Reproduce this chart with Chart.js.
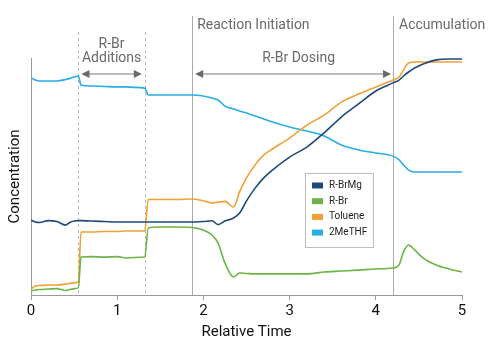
<!DOCTYPE html>
<html>
<head>
<meta charset="utf-8">
<script src="https://cdn.jsdelivr.net/npm/chart.js@4"></script>
<style>
  html, body { margin: 0; padding: 0; background: #fff; }
  #wrap { width: 492px; height: 364px; }
</style>
</head>
<body>
<div id="wrap"><canvas id="chartArea"></canvas></div>
<script>
// relative time (x) shared by all series
const time = [0, 0.05, 0.1, 0.2, 0.3, 0.4, 0.45, 0.5, 0.55, 0.58, 0.7, 0.85, 1.0, 1.1, 1.2, 1.32, 1.36, 1.5, 1.7, 1.87,
              2.0, 2.1, 2.17, 2.25, 2.35, 2.42, 2.5, 2.6, 2.7, 2.8, 3.0, 3.2, 3.4, 3.6, 3.8, 4.0, 4.2, 4.27, 4.32, 4.38,
              4.45, 4.55, 4.7, 4.85, 5.0];

const rBrMg = [31.6, 30.8, 30.6, 31.4, 31.0, 29.5, 30.6, 31.2, 31.4, 31.4, 31.2, 31.0, 30.8, 30.8, 30.8, 30.8, 30.8, 30.8, 30.8, 30.8,
               31.0, 31.3, 29.7, 31.2, 32.5, 34.6, 39.7, 45.1, 49.4, 52.7, 58.2, 62.4, 68.4, 75.1, 80.6, 86.1, 89.5, 90.7, 92.4, 94.1,
               95.8, 97.5, 99.2, 99.6, 99.6];
const rBr = [1.8, 2.1, 2.3, 2.5, 2.7, 1.9, 2.3, 2.7, 3.0, 16.0, 16.2, 16.0, 16.2, 15.6, 15.8, 16.0, 28.3, 28.7, 28.7, 28.5,
             27.4, 25.3, 21.9, 13.5, 7.6, 9.3, 9.1, 8.9, 8.9, 8.9, 8.9, 8.9, 9.7, 10.1, 10.5, 11.0, 11.4, 12.7, 18.1, 21.1,
             19.0, 15.6, 12.7, 11.0, 9.7];
const toluene = [2.5, 3.8, 4.0, 4.2, 4.2, 4.6, 4.9, 5.1, 5.5, 26.6, 26.6, 26.8, 26.8, 27.0, 27.0, 27.0, 40.3, 40.3, 40.3, 40.5,
                 39.7, 38.8, 39.2, 39.5, 37.1, 43.5, 49.4, 54.9, 59.1, 61.6, 66.2, 71.7, 75.9, 81.4, 84.8, 87.8, 90.7, 92.0, 94.9, 97.9,
                 98.3, 98.3, 98.3, 98.3, 98.3];
const meTHF = [91.6, 90.7, 90.3, 90.3, 90.3, 90.9, 91.4, 92.0, 92.4, 88.6, 88.2, 88.0, 87.8, 87.8, 87.6, 87.3, 84.4, 84.4, 84.4, 84.4,
               84.0, 83.1, 82.3, 79.7, 78.5, 77.6, 76.8, 75.5, 74.3, 73.0, 70.9, 69.2, 67.1, 63.3, 61.2, 59.9, 58.6, 57.0, 54.9, 52.7,
               51.9, 51.9, 51.9, 51.9, 51.9];

const seriesNames = ["R-BrMg", "R-Br", "Toluene", "2MeTHF"];
const seriesColors = ["#1d4a7a", "#6cb446", "#f0a035", "#27aee3"];

// phase markers on the time axis
const dashedMarks = [0.55, 1.32];
const solidMarks = [1.87, 4.2];

const FONT = "Roboto, 'Open Sans', sans-serif";

function pts(arr) {
    return time.map((t, i) => ({ x: t, y: arr[i] }));
}

// vertical phase lines (under the data)
const phaseLines = {
    id: 'phaseLines',
    beforeDatasetsDraw(chart) {
        const ctx = chart.ctx, xs = chart.scales.x, bottom = chart.chartArea.bottom;
        ctx.save();
        ctx.lineWidth = 1;
        ctx.strokeStyle = '#b8b8b8';
        ctx.setLineDash([3, 3]);
        dashedMarks.forEach(t => {
            const x = Math.round(xs.getPixelForValue(t)) + 0.5;
            ctx.beginPath(); ctx.moveTo(x, 32); ctx.lineTo(x, bottom); ctx.stroke();
        });
        ctx.setLineDash([]);
        ctx.strokeStyle = '#aaaaaa';
        solidMarks.forEach(t => {
            const x = Math.round(xs.getPixelForValue(t)) + 0.5;
            ctx.beginPath(); ctx.moveTo(x, 16); ctx.lineTo(x, bottom); ctx.stroke();
        });
        ctx.restore();
    }
};

function arrow(ctx, x1, x2, y) {
    ctx.beginPath(); ctx.moveTo(x1 + 4, y); ctx.lineTo(x2 - 4, y); ctx.stroke();
    ctx.beginPath(); ctx.moveTo(x1, y); ctx.lineTo(x1 + 8, y - 4); ctx.lineTo(x1 + 8, y + 4); ctx.closePath(); ctx.fill();
    ctx.beginPath(); ctx.moveTo(x2, y); ctx.lineTo(x2 - 8, y - 4); ctx.lineTo(x2 - 8, y + 4); ctx.closePath(); ctx.fill();
}

// labels, arrows and legend box
const notes = {
    id: 'notes',
    afterDraw(chart) {
        const ctx = chart.ctx, xs = chart.scales.x;
        const d1 = xs.getPixelForValue(dashedMarks[0]), d2 = xs.getPixelForValue(dashedMarks[1]);
        const s1 = xs.getPixelForValue(solidMarks[0]), s2 = xs.getPixelForValue(solidMarks[1]);
        ctx.save();
        ctx.fillStyle = '#6a6a6a';
        ctx.strokeStyle = '#7a7a7a';
        ctx.lineWidth = 1.2;
        ctx.font = "14px " + FONT;
        ctx.textBaseline = 'middle';
        ctx.textAlign = 'center';
        ctx.fillText("R-Br", (d1 + d2) / 2, 44);
        ctx.fillText("Additions", (d1 + d2) / 2, 58);
        ctx.fillText("R-Br Dosing", (s1 + s2) / 2 + 6, 58);
        ctx.textAlign = 'left';
        ctx.fillText("Reaction Initiation", s1 + 5, 25);
        ctx.fillText("Accumulation", s2 + 6, 25);
        arrow(ctx, d1 + 3, d2 - 3, 74);
        arrow(ctx, s1 + 3, s2 - 2, 74);

        // legend
        const lx = 305, ly = 173, lw = 68, lh = 74;
        ctx.fillStyle = '#fff';
        ctx.fillRect(lx, ly, lw, lh);
        ctx.strokeStyle = '#bdbdbd';
        ctx.lineWidth = 1;
        ctx.strokeRect(lx + 0.5, ly + 0.5, lw, lh);
        ctx.font = "10px " + FONT;
        chart.data.datasets.forEach((ds, i) => {
            const y = 185.5 + i * 15.7;
            ctx.fillStyle = ds.borderColor;
            ctx.fillRect(lx + 7, y - 3, 11, 6);
            ctx.fillStyle = '#222';
            ctx.fillText(ds.label, lx + 24, y);
        });
        ctx.restore();
    }
};

new Chart(document.getElementById('chartArea'), {
    type: 'line',
    data: {
        datasets: seriesNames.map((name, i) => ({
            label: name,
            data: pts([rBrMg, rBr, toluene, meTHF][i]),
            borderColor: seriesColors[i],
            backgroundColor: seriesColors[i],
            borderWidth: 1.6,
            pointRadius: 0,
            cubicInterpolationMode: 'monotone',
            fill: false
        }))
    },
    options: {
        responsive: true,
        maintainAspectRatio: false,
        animation: false,
        layout: { padding: { top: 58, left: 0, right: 30, bottom: 19 } },
        plugins: { legend: { display: false }, tooltip: { enabled: false } },
        scales: {
            x: {
                type: 'linear',
                min: 0, max: 5,
                afterFit: s => { s.height = 50; },
                ticks: { stepSize: 1, color: '#111', font: { family: FONT, size: 15 }, padding: 2 },
                grid: { drawOnChartArea: false, drawTicks: true, tickLength: 5, color: '#999' },
                border: { color: '#999' },
                title: { display: true, text: 'Relative Time', color: '#111', font: { family: FONT, size: 15 }, padding: { top: 2, bottom: 4 } }
            },
            y: {
                min: 0, max: 100,
                afterFit: s => { s.width = 31; },
                ticks: { display: false },
                grid: { display: false, drawTicks: false },
                border: { display: true, color: '#999' },
                title: { display: true, text: 'Concentration', color: '#111', font: { family: FONT, size: 15 }, padding: { top: 6, bottom: 0 } }
            }
        }
    },
    plugins: [phaseLines, notes]
});
</script>
</body>
</html>
